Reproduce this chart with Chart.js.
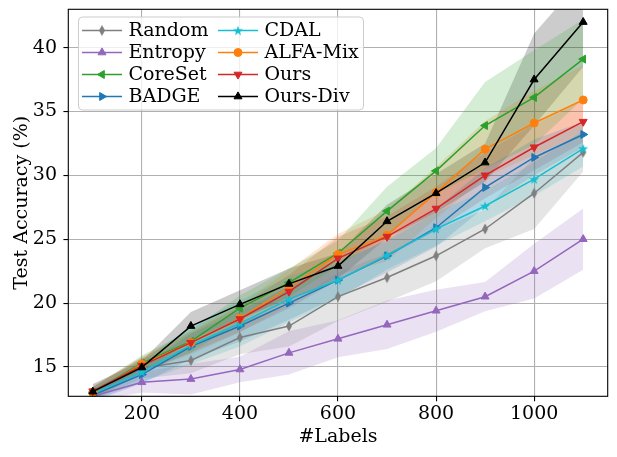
<!DOCTYPE html>
<html>
<head>
<meta charset="utf-8">
<script src="https://cdn.jsdelivr.net/npm/chart.js@4.4.1/dist/chart.umd.min.js"></script>
<style>
  html, body { margin: 0; padding: 0; background: #fff; }
  #wrap { width: 617px; height: 457px; }
</style>
</head>
<body>
<div id="wrap"><canvas id="chart" width="617" height="457"></canvas></div>
<script>
// -------- Data ----------
const labels = [100, 200, 300, 400, 500, 600, 700, 800, 900, 1000, 1100];
const xTicks = [200, 400, 600, 800, 1000];
const yTicks = [15, 20, 25, 30, 35, 40];

const randomAcc   = [12.9, 14.9, 15.5, 17.3, 18.2, 20.5, 22.0, 23.7, 25.8, 28.6, 31.8];
const randomStd   = [0.5, 0.8, 1.0, 1.3, 1.6, 1.9, 1.9, 2.0, 1.5, 2.8, 1.5];
const entropyAcc  = [12.7, 13.8, 14.05, 14.8, 16.1, 17.2, 18.3, 19.4, 20.5, 22.5, 25.0];
const entropyStd  = [0.4, 0.8, 1.2, 1.0, 1.7, 1.45, 1.9, 1.65, 1.15, 2.15, 2.4];
const coresetAcc  = [13.0, 15.3, 17.0, 19.6, 21.6, 23.9, 27.2, 30.35, 33.9, 36.1, 39.1];
const coresetStd  = [0.4, 0.6, 0.9, 1.0, 1.1, 1.0, 1.9, 1.8, 3.4, 3.7, 3.1];
const badgeAcc    = [12.8, 14.4, 16.6, 18.2, 20.0, 21.8, 23.7, 25.9, 29.05, 31.4, 33.2];
const badgeStd    = [0.5, 0.7, 1.0, 1.2, 1.3, 1.3, 1.3, 1.5, 1.5, 1.4, 1.0];
const cdalAcc     = [12.9, 14.6, 16.7, 18.4, 20.3, 21.8, 23.75, 25.8, 27.6, 29.7, 32.1];
const cdalStd     = [0.5, 0.8, 1.5, 1.8, 1.8, 1.5, 1.1, 1.3, 1.2, 1.3, 1.4];
const alfaAcc     = [13.0, 15.2, 16.9, 18.8, 21.2, 23.8, 25.3, 28.65, 32.05, 34.1, 35.9];
const alfaStd     = [0.4, 0.6, 0.9, 1.1, 1.4, 1.6, 2.0, 2.0, 2.2, 2.5, 2.7];
const oursAcc     = [13.1, 15.1, 16.9, 18.75, 20.9, 23.5, 25.2, 27.4, 30.0, 32.2, 34.2];
const oursStd     = [0.4, 0.6, 0.8, 1.0, 1.3, 1.7, 1.6, 1.7, 1.8, 1.8, 1.6];
const oursDivAcc  = [13.06, 14.96, 18.2, 19.9, 21.5, 22.9, 26.4, 28.6, 31.0, 37.5, 42.0];
const oursDivStd  = [0.6, 0.5, 1.1, 1.1, 1.2, 1.0, 1.3, 1.5, 1.5, 3.6, 3.5];

const FONT = "'DejaVu Serif', serif";

// -------- Custom markers ----------
function thinDiamond(color) {
  const c = document.createElement("canvas");
  c.width = 8; c.height = 12;
  const g = c.getContext("2d");
  g.fillStyle = color;
  g.beginPath();
  g.moveTo(4, 0.5); g.lineTo(7, 6); g.lineTo(4, 11.5); g.lineTo(1, 6);
  g.closePath(); g.fill();
  return c;
}
function star(color) {
  const c = document.createElement("canvas");
  c.width = 12; c.height = 12;
  const g = c.getContext("2d");
  g.fillStyle = color;
  g.beginPath();
  for (let i = 0; i < 10; i++) {
    const r = i % 2 ? 2.1 : 5.3;
    const a = -Math.PI / 2 + i * Math.PI / 5;
    g.lineTo(6 + r * Math.cos(a), 6.5 + r * Math.sin(a));
  }
  g.closePath(); g.fill();
  return c;
}

const series = [
  { label: "Random",   acc: randomAcc,  std: randomStd,  color: "#7f7f7f", style: thinDiamond("#7f7f7f"), rot: 0,   r: 5 },
  { label: "Entropy",  acc: entropyAcc, std: entropyStd, color: "#9467bd", style: "triangle", rot: 0,   r: 4.6 },
  { label: "CoreSet",  acc: coresetAcc, std: coresetStd, color: "#2ca02c", style: "triangle", rot: -90, r: 4.6 },
  { label: "BADGE",    acc: badgeAcc,   std: badgeStd,   color: "#1f77b4", style: "triangle", rot: 90,  r: 4.6 },
  { label: "CDAL",     acc: cdalAcc,    std: cdalStd,    color: "#17becf", style: star("#17becf"), rot: 0, r: 5 },
  { label: "ALFA-Mix", acc: alfaAcc,    std: alfaStd,    color: "#ff7f0e", style: "circle",   rot: 0,   r: 4 },
  { label: "Ours",     acc: oursAcc,    std: oursStd,    color: "#d62728", style: "triangle", rot: 180, r: 4.6 },
  { label: "Ours-Div", acc: oursDivAcc, std: oursDivStd, color: "#000000", style: "triangle", rot: 0,   r: 4.6 }
];

function alpha(hex, a) {
  const n = parseInt(hex.slice(1), 16);
  return `rgba(${(n >> 16) & 255},${(n >> 8) & 255},${n & 255},${a})`;
}

// -------- Datasets: band (lower + upper) then line ----------
const datasets = [];
series.forEach((s, i) => {
  const lowIdx = datasets.length;
  datasets.push({
    data: labels.map((x, k) => ({ x, y: s.acc[k] - s.std[k] })),
    borderWidth: 0, pointRadius: 0, fill: false, order: 20 + i
  });
  datasets.push({
    data: labels.map((x, k) => ({ x, y: s.acc[k] + s.std[k] })),
    borderWidth: 0, pointRadius: 0, fill: lowIdx,
    backgroundColor: alpha(s.color, 0.2), order: 20 + i
  });
});
series.forEach((s, i) => {
  datasets.push({
    label: s.label,
    data: labels.map((x, k) => ({ x, y: s.acc[k] })),
    borderColor: s.color, backgroundColor: s.color,
    borderWidth: 1.5, fill: false,
    pointStyle: s.style, pointRotation: s.rot, pointRadius: s.r,
    pointBackgroundColor: s.color, pointBorderColor: s.color, pointBorderWidth: 1,
    order: series.length - i
  });
});

// -------- Frame + legend ----------
const framePlugin = {
  id: "framePlugin",
  afterDraw(chart) {
    const { ctx, chartArea: a } = chart;
    ctx.save();
    ctx.strokeStyle = "#000"; ctx.lineWidth = 1.1;
    ctx.strokeRect(a.left, a.top, a.right - a.left, a.bottom - a.top);

    // legend box
    ctx.beginPath();
    ctx.roundRect(78.5, 17, 285, 93, 4);
    ctx.fillStyle = "rgba(255,255,255,0.8)"; ctx.fill();
    ctx.strokeStyle = "#cccccc"; ctx.lineWidth = 1; ctx.stroke();

    ctx.font = "19px " + FONT;
    ctx.textBaseline = "middle";
    series.forEach((s, i) => {
      const col = Math.floor(i / 4), row = i % 4;
      const x0 = col ? 218 : 82, y = 30.5 + row * 22;
      ctx.strokeStyle = s.color; ctx.fillStyle = s.color; ctx.lineWidth = 1.5;
      ctx.beginPath(); ctx.moveTo(x0, y); ctx.lineTo(x0 + 40, y); ctx.stroke();
      ctx.lineWidth = 1;
      Chart.helpers.drawPoint(ctx, { pointStyle: s.style, radius: s.r, rotation: s.rot, borderWidth: 1 }, x0 + 20, y);
      ctx.fillStyle = "#000";
      ctx.fillText(s.label, x0 + 46.5, y + 1);
    });
    ctx.restore();
  }
};

const tickFont = { family: FONT, size: 19 };

new Chart(document.getElementById("chart").getContext("2d"), {
  type: "line",
  data: { datasets },
  options: {
    responsive: false,
    animation: false,
    devicePixelRatio: 1,
    layout: { padding: { top: 9.3, right: 9.3, left: 0, bottom: 0 } },
    plugins: {
      legend: { display: false },
      tooltip: { enabled: false },
      filler: { drawTime: "beforeDatasetsDraw" }
    },
    scales: {
      x: {
        type: "linear", min: 50, max: 1150,
        afterBuildTicks: (s) => { s.ticks = xTicks.map(v => ({ value: v })); },
        afterFit: (s) => { s.height = 60.7; s.paddingLeft = 0; s.paddingRight = 0; },
        ticks: { font: tickFont, color: "#000", padding: 1, callback: (v) => String(v) },
        grid: { color: "#b0b0b0", lineWidth: 1.1, tickLength: 4.9, tickColor: "#000", tickWidth: 1.1 },
        border: { display: false },
        title: { display: true, text: "#Labels", font: tickFont, color: "#000", padding: { top: 0, bottom: 8.6 } }
      },
      y: {
        min: 12.7, max: 43.0,
        afterBuildTicks: (s) => { s.ticks = yTicks.map(v => ({ value: v })); },
        afterFit: (s) => { s.width = 68.3; s.paddingTop = 0; s.paddingBottom = 0; },
        ticks: { font: tickFont, color: "#000", padding: 6.4, callback: (v) => String(v) },
        grid: { color: "#b0b0b0", lineWidth: 1.1, tickLength: 4.9, tickColor: "#000", tickWidth: 1.1 },
        border: { display: false },
        title: { display: true, text: "Test Accuracy (%)", font: tickFont, color: "#000", padding: { top: 10.5, bottom: 0 } }
      }
    }
  },
  plugins: [framePlugin]
});
</script>
</body>
</html>
